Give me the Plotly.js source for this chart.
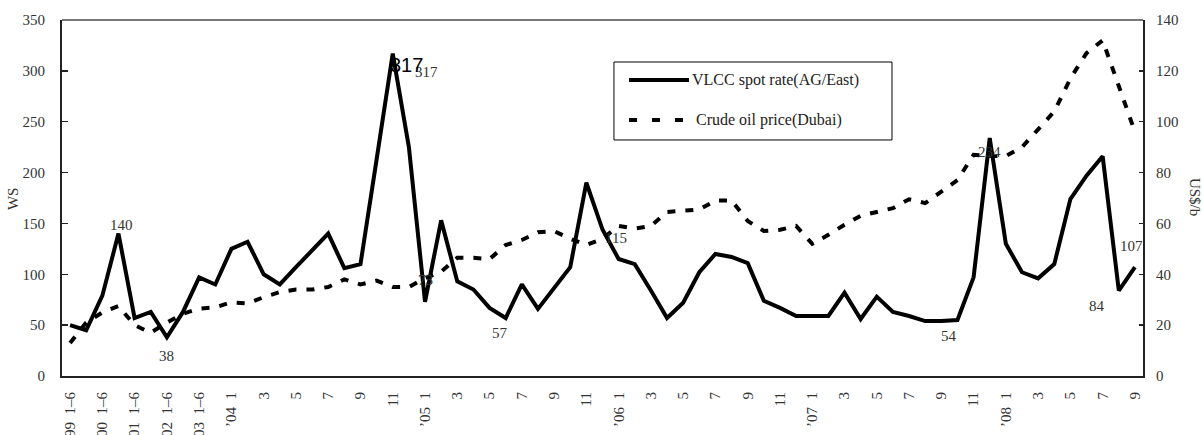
<!DOCTYPE html>
<html>
<head>
<meta charset="utf-8">
<script src="https://cdn.plot.ly/plotly-3.0.1.min.js"></script>
<style>html,body{margin:0;padding:0;background:#fff;}#chart{width:1203px;height:435px;}</style>
</head>
<body>
<div id="chart"></div>
<script>
// ---- data ----
const categories = [
  "'99 1-6","'99 7-12","'00 1-6","'00 7-12","'01 1-6","'01 7-12","'02 1-6","'02 7-12","'03 1-6","'03 7-12",
  "'04 1","'04 2","'04 3","'04 4","'04 5","'04 6","'04 7","'04 8","'04 9","'04 10","'04 11","'04 12",
  "'05 1","'05 2","'05 3","'05 4","'05 5","'05 6","'05 7","'05 8","'05 9","'05 10","'05 11","'05 12",
  "'06 1","'06 2","'06 3","'06 4","'06 5","'06 6","'06 7","'06 8","'06 9","'06 10","'06 11","'06 12",
  "'07 1","'07 2","'07 3","'07 4","'07 5","'07 6","'07 7","'07 8","'07 9","'07 10","'07 11","'07 12",
  "'08 1","'08 2","'08 3","'08 4","'08 5","'08 6","'08 7","'08 8","'08 9"
];
const vlccSpot = [
  50,45,79,140,57,63,38,63,97,90,
  125,132,100,90,107,124,140,106,110,213,317,225,
  73,153,93,85,67,57,90,66,87,107,190,144,
  115,110,84,57,72,102,120,117,111,74,67,59,
  59,59,82,56,78,63,59,54,54,55,97,234,
  130,102,96,110,174,197,216,84,107
];
const crudeDubai = [
  13,21,25,27.5,20,17,21,24.5,26.5,27,
  29,28.5,31,33,34,34,35,38,36,37.5,35,35,
  38.5,41,46.5,46.5,46,51.5,53.5,56.5,57,54,51.5,54,
  59,58,59,64.5,65,65.5,69,69,61,57,57.5,59,
  52,55.5,59.5,63,64.5,66,69.5,68,72.5,77,87,86.5,
  86.5,90,97,104,117,127,132,114,96
];
// shown tick labels (every second category)
const tickLabels = [
  "\u201999\u20021\u20136","\u201900\u20021\u20136","\u201901\u20021\u20136","\u201902\u20021\u20136","\u201903\u20021\u20136",
  "\u201904\u20021","3","5","7","9","11",
  "\u201905\u20021","3","5","7","9","11",
  "\u201906\u20021","3","5","7","9","11",
  "\u201907\u20021","3","5","7","9","11",
  "\u201908\u20021","3","5","7","9"
];
const seriesNames = ["VLCC spot rate(AG/East)", "Crude oil price(Dubai)"];
// which VLCC points carry a value label
const labelledPoints = [3, 6, 20, 22, 27, 34, 54, 57, 65, 66];

// ---- layout helpers (styles/positions only) ----
const labelShift = {3:[3,9],6:[0,-19],20:[34,-18],22:[0,22],27:[-6,-15],34:[-3,21],54:[8,-15],57:[0,-14],65:[-22,-15],66:[-3,21]};

const idx = categories.map((_, i) => i);
const tickVals = idx.filter(i => i % 2 === 0);
const boundaryVals = idx.filter(i => i % 2 === 0).map(i => i - 0.5);

const traces = [
  {x: idx, y: crudeDubai, yaxis: 'y2', name: seriesNames[1], mode: 'lines',
   line: {color: '#000', width: 4, dash: '8px,10px'}, hoverinfo: 'skip'},
  {x: idx, y: vlccSpot, yaxis: 'y', name: seriesNames[0], mode: 'lines',
   line: {color: '#000', width: 4}, hoverinfo: 'skip'}
];

const serif = 'Liberation Serif, Times New Roman, serif';
const annotations = labelledPoints.map(i => ({
  x: i, y: vlccSpot[i], xref: 'x', yref: 'y', text: String(vlccSpot[i]), showarrow: false,
  xshift: labelShift[i][0], yshift: labelShift[i][1],
  font: {family: serif, size: 15, color: '#333'}
}));
// bold duplicate label at the peak
const peak = vlccSpot.indexOf(Math.max(...vlccSpot));
annotations.push({x: peak, y: vlccSpot[peak], xref: 'x', yref: 'y', text: String(vlccSpot[peak]),
  showarrow: false, xshift: 14, yshift: -11, font: {family: 'Liberation Sans, Arial, sans-serif', size: 20, color: '#000'}});
// axis titles
annotations.push({xref: 'paper', yref: 'paper', x: -0.0453, y: 0.497, xanchor: 'center', yanchor: 'middle',
  text: 'WS', textangle: -90, showarrow: false, font: {family: serif, size: 15, color: '#333'}});
annotations.push({xref: 'paper', yref: 'paper', x: 1.0481, y: 0.503, xanchor: 'center', yanchor: 'middle',
  text: 'US$/b', textangle: 90, showarrow: false, font: {family: serif, size: 15, color: '#333'}});
// legend texts
annotations.push({xref: 'paper', yref: 'paper', x: 0.581, y: 0.8315, xanchor: 'left', yanchor: 'middle',
  text: seriesNames[0], showarrow: false, font: {family: serif, size: 16, color: '#222'}});
annotations.push({xref: 'paper', yref: 'paper', x: 0.5846, y: 0.719, xanchor: 'left', yanchor: 'middle',
  text: seriesNames[1], showarrow: false, font: {family: serif, size: 16, color: '#222'}});

const shapes = [
  {type: 'line', xref: 'paper', yref: 'paper', x0: 0, x1: 1, y0: 1, y1: 1, line: {color: '#777', width: 2}},
  {type: 'rect', xref: 'paper', yref: 'paper', x0: 0.5106, x1: 0.7678, y0: 0.663, y1: 0.882,
   line: {color: '#000', width: 1}, fillcolor: 'rgba(255,255,255,0)'},
  {type: 'line', xref: 'paper', yref: 'paper', x0: 0.5245, x1: 0.5800, y0: 0.8315, y1: 0.8315,
   line: {color: '#000', width: 4}},
  {type: 'line', xref: 'paper', yref: 'paper', x0: 0.5245, x1: 0.5800, y0: 0.719, y1: 0.719,
   line: {color: '#000', width: 4, dash: '8px,15px'}}
];

const layout = {
  width: 1203, height: 435,
  margin: {l: 62, r: 60, t: 20, b: 59, pad: 0},
  paper_bgcolor: '#fff', plot_bgcolor: '#fff',
  showlegend: false,
  font: {family: serif, size: 15, color: '#222'},
  xaxis: {
    range: [-0.5, 66.5], tickmode: 'array', tickvals: tickVals, ticktext: tickLabels,
    tickangle: -90, ticks: '', showline: true, linecolor: '#222', linewidth: 2,
    showgrid: false, zeroline: false, ticklabelstandoff: 8,
    tickfont: {family: serif, size: 15, color: '#333'}
  },
  xaxis2: {
    overlaying: 'x', anchor: 'y', side: 'bottom', range: [-0.5, 66.5],
    tickmode: 'array', tickvals: boundaryVals, ticks: 'inside', ticklen: 6, tickwidth: 1.5,
    tickcolor: '#222', showticklabels: false, showline: false, showgrid: false, zeroline: false
  },
  yaxis: {
    range: [0, 350], tick0: 0, dtick: 50, ticks: 'inside', ticklen: 6, tickwidth: 1.5, tickcolor: '#222',
    showline: true, linecolor: '#222', linewidth: 2, showgrid: false, zeroline: false,
    ticklabelstandoff: 12, tickfont: {family: serif, size: 15, color: '#333'}
  },
  yaxis2: {
    overlaying: 'y', side: 'right', anchor: 'x', range: [0, 140], tick0: 0, dtick: 20,
    ticks: 'inside', ticklen: 4, tickwidth: 1.5, tickcolor: '#222',
    showline: true, linecolor: '#222', linewidth: 2, showgrid: false, zeroline: false,
    ticklabelstandoff: 8, tickfont: {family: serif, size: 15, color: '#333'}
  },
  annotations: annotations,
  shapes: shapes
};

Plotly.newPlot('chart', traces, layout, {displayModeBar: false, staticPlot: true});
</script>
</body>
</html>
